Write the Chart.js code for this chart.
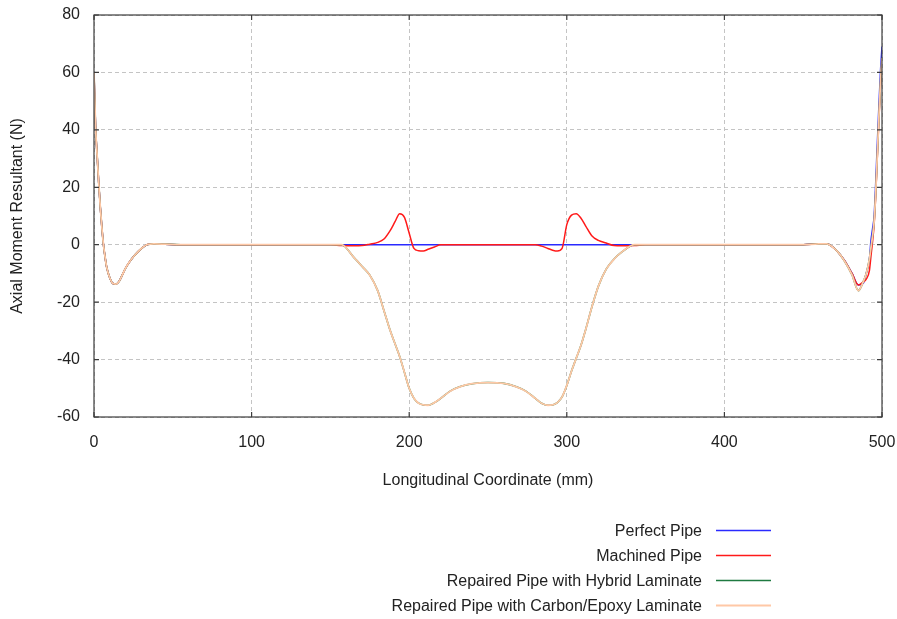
<!DOCTYPE html>
<html>
<head>
<meta charset="utf-8">
<script src="https://cdn.jsdelivr.net/npm/chart.js@4"></script>
<style>
  html, body { margin: 0; padding: 0; background: #fff; }
</style>
</head>
<body>
<canvas id="myChart" width="897" height="619"></canvas>
<script>
// values (x in mm, y in N)
const seriesNames = [
  "Perfect Pipe",
  "Machined Pipe",
  "Repaired Pipe with Hybrid Laminate",
  "Repaired Pipe with Carbon/Epoxy Laminate",
];
const seriesColors = ["#2a2aff", "#ff1a1a", "#1e7a40", "#ffc8a6"];

const xTicks = [0, 100, 200, 300, 400, 500];
const yTicks = [-60, -40, -20, 0, 20, 40, 60, 80];

// left end, all four curves lie on top of each other
const edgeLeftX = [0, 1, 2, 3, 4, 5, 6, 7, 8, 10, 12, 14, 16, 18, 20, 22, 25, 28, 31, 34, 38, 45, 55];
const edgeLeftY = [60, 41, 31, 21.5, 13, 6, 0, -4.2, -7.7, -11.5, -13.5, -13.7, -12.7, -10.5, -8.2, -6.4, -4.2, -2.4, -0.9, 0.1, 0.3, 0.2, 0];

// right end
const edgeRightX = [450, 460, 465, 468, 472, 476, 481, 485, 488, 490, 492, 493, 494, 495, 496, 497, 498, 499, 500];
const perfectRightY = [0, 0.3, 0.3, -0.5, -2.5, -5.3, -10, -14, -13.5, -10, -5, 1.5, 5.5, 10, 21.5, 35, 48, 60, 69];
const machinedRightY = [0, 0.3, 0.3, -0.5, -2.5, -5.3, -10, -14, -13, -12, -9, -4, 1, 7, 17, 30, 43, 55, 64];
const repairedRightY = [0, 0.3, 0.3, -0.5, -2.5, -5.5, -10.5, -16, -13, -10, -5, -1, 3, 8, 18, 31, 44, 56, 65];

// machined pipe bumps around the defects
const machinedMidX = [150, 157, 165, 170, 175, 180, 184, 188, 191, 194, 197, 200, 203, 206, 209, 212, 216, 220,
  280, 284, 288, 291, 294, 297, 300, 303, 306, 309, 312, 316, 320, 325, 330, 335, 343, 350];
const machinedMidY = [0, -0.3, -0.4, -0.3, 0.2, 0.8, 2.0, 5.0, 8.0, 10.8, 9.5, 4, -1.3, -2.1, -2.2, -1.6, -0.8, 0,
  0, -0.5, -1.3, -1.9, -2.2, -1.3, 7, 10.3, 10.8, 9.2, 6.5, 3, 1.5, 0.6, -0.3, -0.4, -0.3, 0];

// repaired pipes trough under the laminate
const troughX = [150, 157, 165, 170, 175, 180, 184, 188, 191, 194, 197, 200, 203, 206, 209, 212, 216, 220, 226, 232,
  240, 250, 260, 268, 274, 280, 284, 288, 291, 294, 297, 300, 303, 306, 309, 312, 316, 320, 325, 330, 335, 343, 350];
const hybridTroughY = [0, 0, -4.5, -7.5, -10.6, -16, -23, -30, -34.5, -39, -44.5, -50, -53.5, -55.2, -55.8, -55.9, -55, -53.5, -51, -49.5,
  -48.4, -48, -48.3, -49.5, -51, -53.5, -55.2, -55.9, -55.8, -55, -53, -49, -44, -39.5, -35, -29.5, -21.5, -14.5, -8.5, -5, -2.5, 0, 0];
const carbonTroughY = [0, 0, -4.5, -7.5, -10.6, -16, -23, -30, -34.5, -39, -44.5, -50, -53.5, -55.2, -55.8, -55.9, -55, -53.5, -51, -49.5,
  -48.4, -48, -48.3, -49.5, -51, -53.5, -55.2, -55.9, -55.8, -55, -53, -49, -44, -39.5, -35, -29.5, -21.5, -14.5, -8.5, -5, -2.5, 0, 0];

const toPoints = (xs, ys) => xs.map((x, i) => ({ x: x, y: ys[i] }));

const perfectData = [...toPoints(edgeLeftX, edgeLeftY), ...toPoints(edgeRightX, perfectRightY)];
const machinedData = [...toPoints(edgeLeftX, edgeLeftY), ...toPoints(machinedMidX, machinedMidY), ...toPoints(edgeRightX, machinedRightY)];
const hybridData = [...toPoints(edgeLeftX, edgeLeftY), ...toPoints(troughX, hybridTroughY), ...toPoints(edgeRightX, repairedRightY)];
const carbonData = [...toPoints(edgeLeftX, edgeLeftY), ...toPoints(troughX, carbonTroughY), ...toPoints(edgeRightX, repairedRightY)];

const fontFamily = "'Liberation Sans', Arial, sans-serif";
Chart.defaults.font.family = fontFamily;
Chart.defaults.font.size = 16;
Chart.defaults.color = "#222";

// box around the plot with small inward ticks
const framePlugin = {
  id: "frame",
  afterDatasetsDraw(chart) {
    const { ctx, chartArea: a, scales } = chart;
    ctx.save();
    ctx.strokeStyle = "#3c3c3c";
    ctx.lineWidth = 1.2;
    ctx.strokeRect(a.left, a.top, a.right - a.left, a.bottom - a.top);
    ctx.beginPath();
    xTicks.forEach((v) => {
      const px = scales.x.getPixelForValue(v);
      ctx.moveTo(px, a.bottom);
      ctx.lineTo(px, a.bottom - 5);
      ctx.moveTo(px, a.top);
      ctx.lineTo(px, a.top + 5);
    });
    yTicks.forEach((v) => {
      const py = scales.y.getPixelForValue(v);
      ctx.moveTo(a.left, py);
      ctx.lineTo(a.left + 5, py);
      ctx.moveTo(a.right, py);
      ctx.lineTo(a.right - 5, py);
    });
    ctx.stroke();
    ctx.restore();
  },
};

// legend: right aligned text followed by a line sample
const legendPlugin = {
  id: "sideLegend",
  afterDraw(chart) {
    const ctx = chart.ctx;
    ctx.save();
    ctx.font = "16px " + fontFamily;
    ctx.textAlign = "right";
    ctx.textBaseline = "middle";
    const rows = [530.5, 555.5, 580.5, 605.5];
    seriesNames.forEach((name, i) => {
      ctx.fillStyle = "#222";
      ctx.fillText(name, 702, rows[i] + 1);
      ctx.strokeStyle = seriesColors[i];
      ctx.lineWidth = i === 3 ? 2 : 1.5;
      ctx.beginPath();
      ctx.moveTo(716, rows[i]);
      ctx.lineTo(771, rows[i]);
      ctx.stroke();
    });
    ctx.restore();
  },
};

const makeSet = (i, data, order, width) => ({
  label: seriesNames[i],
  data: data,
  borderColor: seriesColors[i],
  backgroundColor: seriesColors[i],
  borderWidth: width,
  pointRadius: 0,
  fill: false,
  cubicInterpolationMode: "monotone",
  order: order,
});

// the plot box is placed by the layout padding only
const dropLabelPadding = (scale) => {
  scale.paddingTop = 0;
  scale.paddingBottom = 0;
  scale.paddingLeft = 0;
  scale.paddingRight = 0;
};

const chart = new Chart(document.getElementById("myChart"), {
  type: "line",
  data: {
    datasets: [
      makeSet(0, perfectData, 4, 1.5),
      makeSet(1, machinedData, 3, 1.5),
      makeSet(2, hybridData, 2, 1.6),
      makeSet(3, carbonData, 1, 1.8),
    ],
  },
  options: {
    responsive: false,
    animation: false,
    layout: { padding: { left: 0, top: 15, right: 15, bottom: 127 } },
    scales: {
      x: {
        type: "linear",
        min: 0,
        max: 500,
        afterBuildTicks: (scale) => { scale.ticks = xTicks.map((v) => ({ value: v })); },
        afterFit: (scale) => { scale.height = 75; dropLabelPadding(scale); },
        grid: { color: "#c4c4c4", lineWidth: 1, drawTicks: false },
        border: { display: false, dash: [4, 3] },
        ticks: { padding: 16, color: "#222" },
        title: {
          display: true,
          text: "Longitudinal Coordinate (mm)",
          color: "#222",
          font: { size: 16 },
          padding: { top: 0, bottom: 1.4 },
        },
      },
      y: {
        min: -60,
        max: 80,
        afterBuildTicks: (scale) => { scale.ticks = yTicks.map((v) => ({ value: v })); },
        afterFit: (scale) => { scale.width = 94; dropLabelPadding(scale); },
        grid: { color: "#c4c4c4", lineWidth: 1, drawTicks: false },
        border: { display: false, dash: [4, 3] },
        ticks: { padding: 14, color: "#222" },
        title: {
          display: true,
          text: "Axial Moment Resultant (N)",
          color: "#222",
          font: { size: 16 },
          padding: { top: 8, bottom: 0 },
        },
      },
    },
    plugins: {
      legend: { display: false },
      tooltip: { enabled: false },
    },
  },
  plugins: [framePlugin, legendPlugin],
});
</script>
</body>
</html>
